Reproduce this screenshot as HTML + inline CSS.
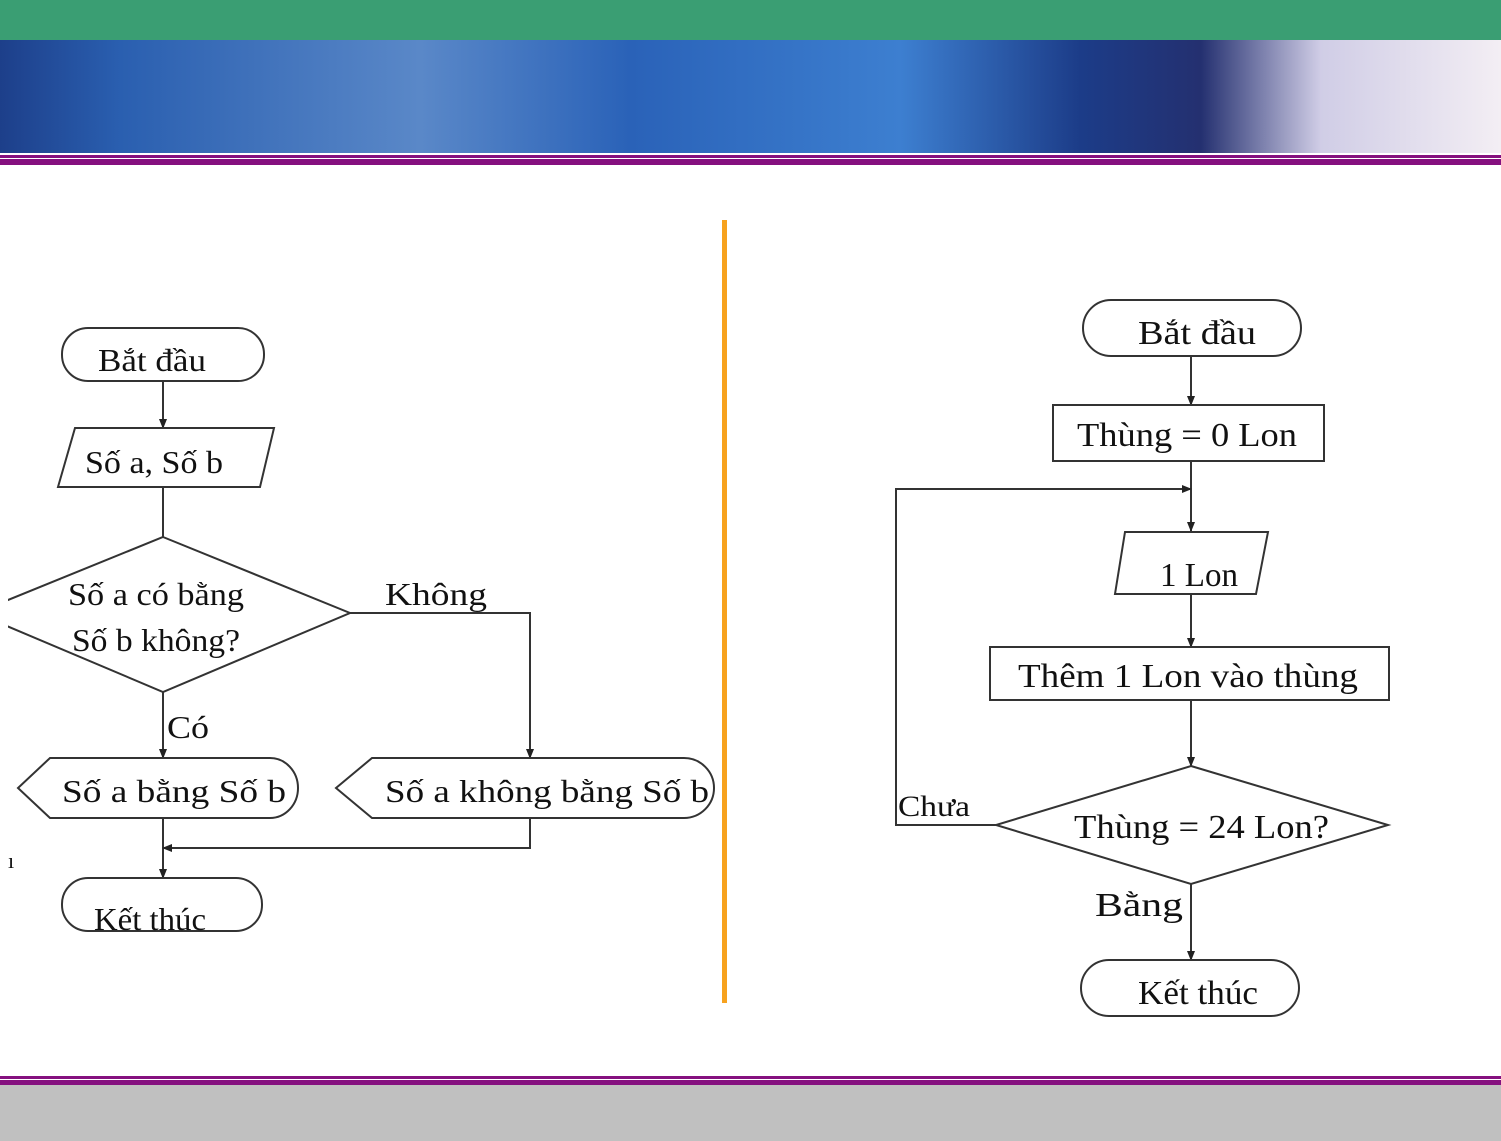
<!DOCTYPE html>
<html><head><meta charset="utf-8"><style>
html,body{margin:0;padding:0;width:1501px;height:1141px;overflow:hidden;background:#fff}
svg{display:block}
text{font-family:"Liberation Serif",serif;fill:#111}
</style></head><body>
<svg width="1501" height="1141" viewBox="0 0 1501 1141" xmlns="http://www.w3.org/2000/svg">
<defs>
<linearGradient id="bg" x1="0" y1="0" x2="1" y2="0">
<stop offset="0" stop-color="#1d3f8a"/>
<stop offset="0.08" stop-color="#2a5fb0"/>
<stop offset="0.28" stop-color="#5a88c8"/>
<stop offset="0.42" stop-color="#2a62b8"/>
<stop offset="0.6" stop-color="#3d7fd0"/>
<stop offset="0.72" stop-color="#1c3c88"/>
<stop offset="0.8" stop-color="#243070"/>
<stop offset="0.88" stop-color="#d0cde6"/>
<stop offset="1" stop-color="#f3eef4"/>
</linearGradient>
<marker id="a" markerWidth="10" markerHeight="10" refX="9" refY="5" orient="auto" markerUnits="userSpaceOnUse"><path d="M0,1 L10,5 L0,9 z" fill="#222"/></marker>
</defs>
<rect x="0" y="0" width="1501" height="40" fill="#3a9e73"/>
<rect x="0" y="40" width="1501" height="113" fill="url(#bg)"/>
<rect x="0" y="155" width="1501" height="3" fill="#85107f"/>
<rect x="0" y="159" width="1501" height="6" fill="#85107f"/>
<rect x="0" y="1076" width="1501" height="3" fill="#85107f"/>
<rect x="0" y="1080" width="1501" height="5" fill="#85107f"/>
<rect x="0" y="1085" width="1501" height="56" fill="#c0c0c0"/>
<rect x="722" y="220" width="5" height="783" fill="#f7a21e"/>

<g stroke="#333" stroke-width="2" fill="none">
<rect x="62" y="328" width="202" height="53" rx="26"/>
<line x1="163" y1="381" x2="163" y2="428" marker-end="url(#a)"/>
<polygon points="75,428 274,428 260,487 58,487"/>
<line x1="163" y1="487" x2="163" y2="537"/>
<polygon points="163,537 350,613 163,692 -24,613"/>
<polyline points="350,613 530,613 530,758" marker-end="url(#a)"/>
<line x1="163" y1="692" x2="163" y2="758" marker-end="url(#a)"/>
<path d="M50,758 L270,758 A28,30 0 0 1 270,818 L50,818 L18,788 Z"/>
<path d="M372,758 L684,758 A30,30 0 0 1 684,818 L372,818 L336,788 Z"/>
<line x1="163" y1="818" x2="163" y2="878" marker-end="url(#a)"/>
<polyline points="530,818 530,848 163,848" marker-end="url(#a)"/>
<rect x="62" y="878" width="200" height="53" rx="26"/>
<rect x="1083" y="300" width="218" height="56" rx="28"/>
<line x1="1191" y1="356" x2="1191" y2="405" marker-end="url(#a)"/>
<rect x="1053" y="405" width="271" height="56"/>
<line x1="1191" y1="461" x2="1191" y2="531" marker-end="url(#a)"/>
<polyline points="996,825 896,825 896,489 1191,489" marker-end="url(#a)"/>
<polygon points="1125,532 1268,532 1256,594 1115,594"/>
<line x1="1191" y1="594" x2="1191" y2="647" marker-end="url(#a)"/>
<rect x="990" y="647" width="399" height="53"/>
<line x1="1191" y1="700" x2="1191" y2="766" marker-end="url(#a)"/>
<polygon points="1191,766 1388,825 1191,884 996,825"/>
<line x1="1191" y1="884" x2="1191" y2="960" marker-end="url(#a)"/>
<rect x="1081" y="960" width="218" height="56" rx="28"/>
</g>
<rect x="0" y="560" width="8" height="110" fill="#fff"/>

<g font-size="32">
<text x="98" y="371" textLength="108" lengthAdjust="spacingAndGlyphs">Bắt  đầu</text>
<text x="85" y="473" textLength="138" lengthAdjust="spacingAndGlyphs">Số a, Số b</text>
<text x="68" y="605" textLength="176" lengthAdjust="spacingAndGlyphs">Số  a có  bằng</text>
<text x="72" y="651" textLength="168" lengthAdjust="spacingAndGlyphs">Số  b không?</text>
<text x="385" y="605" textLength="102" lengthAdjust="spacingAndGlyphs">Không</text>
<text x="167" y="738" textLength="42" lengthAdjust="spacingAndGlyphs">Có</text>
<text x="62" y="802" textLength="224" lengthAdjust="spacingAndGlyphs">Số a bằng Số b</text>
<text x="385" y="802" textLength="324" lengthAdjust="spacingAndGlyphs">Số a không bằng Số b</text>
<text x="8" y="868" font-size="22">ı</text>
<text x="94" y="930" textLength="112" lengthAdjust="spacingAndGlyphs">Kết  thúc</text>
</g>
<g font-size="34">
<text x="1138" y="344" textLength="118" lengthAdjust="spacingAndGlyphs">Bắt  đầu</text>
<text x="1077" y="446" textLength="220" lengthAdjust="spacingAndGlyphs">Thùng   = 0  Lon</text>
<text x="1160" y="586" textLength="78" lengthAdjust="spacingAndGlyphs">1 Lon</text>
<text x="1018" y="687" textLength="340" lengthAdjust="spacingAndGlyphs">Thêm   1 Lon  vào   thùng</text>
<text x="1074" y="838" textLength="255" lengthAdjust="spacingAndGlyphs">Thùng   = 24  Lon?</text>
<text x="898" y="816" font-size="30" textLength="72" lengthAdjust="spacingAndGlyphs">Chưa</text>
<text x="1095" y="916" textLength="88" lengthAdjust="spacingAndGlyphs">Bằng</text>
<text x="1138" y="1004" textLength="120" lengthAdjust="spacingAndGlyphs">Kết  thúc</text>
</g>
</svg>
</body></html>
